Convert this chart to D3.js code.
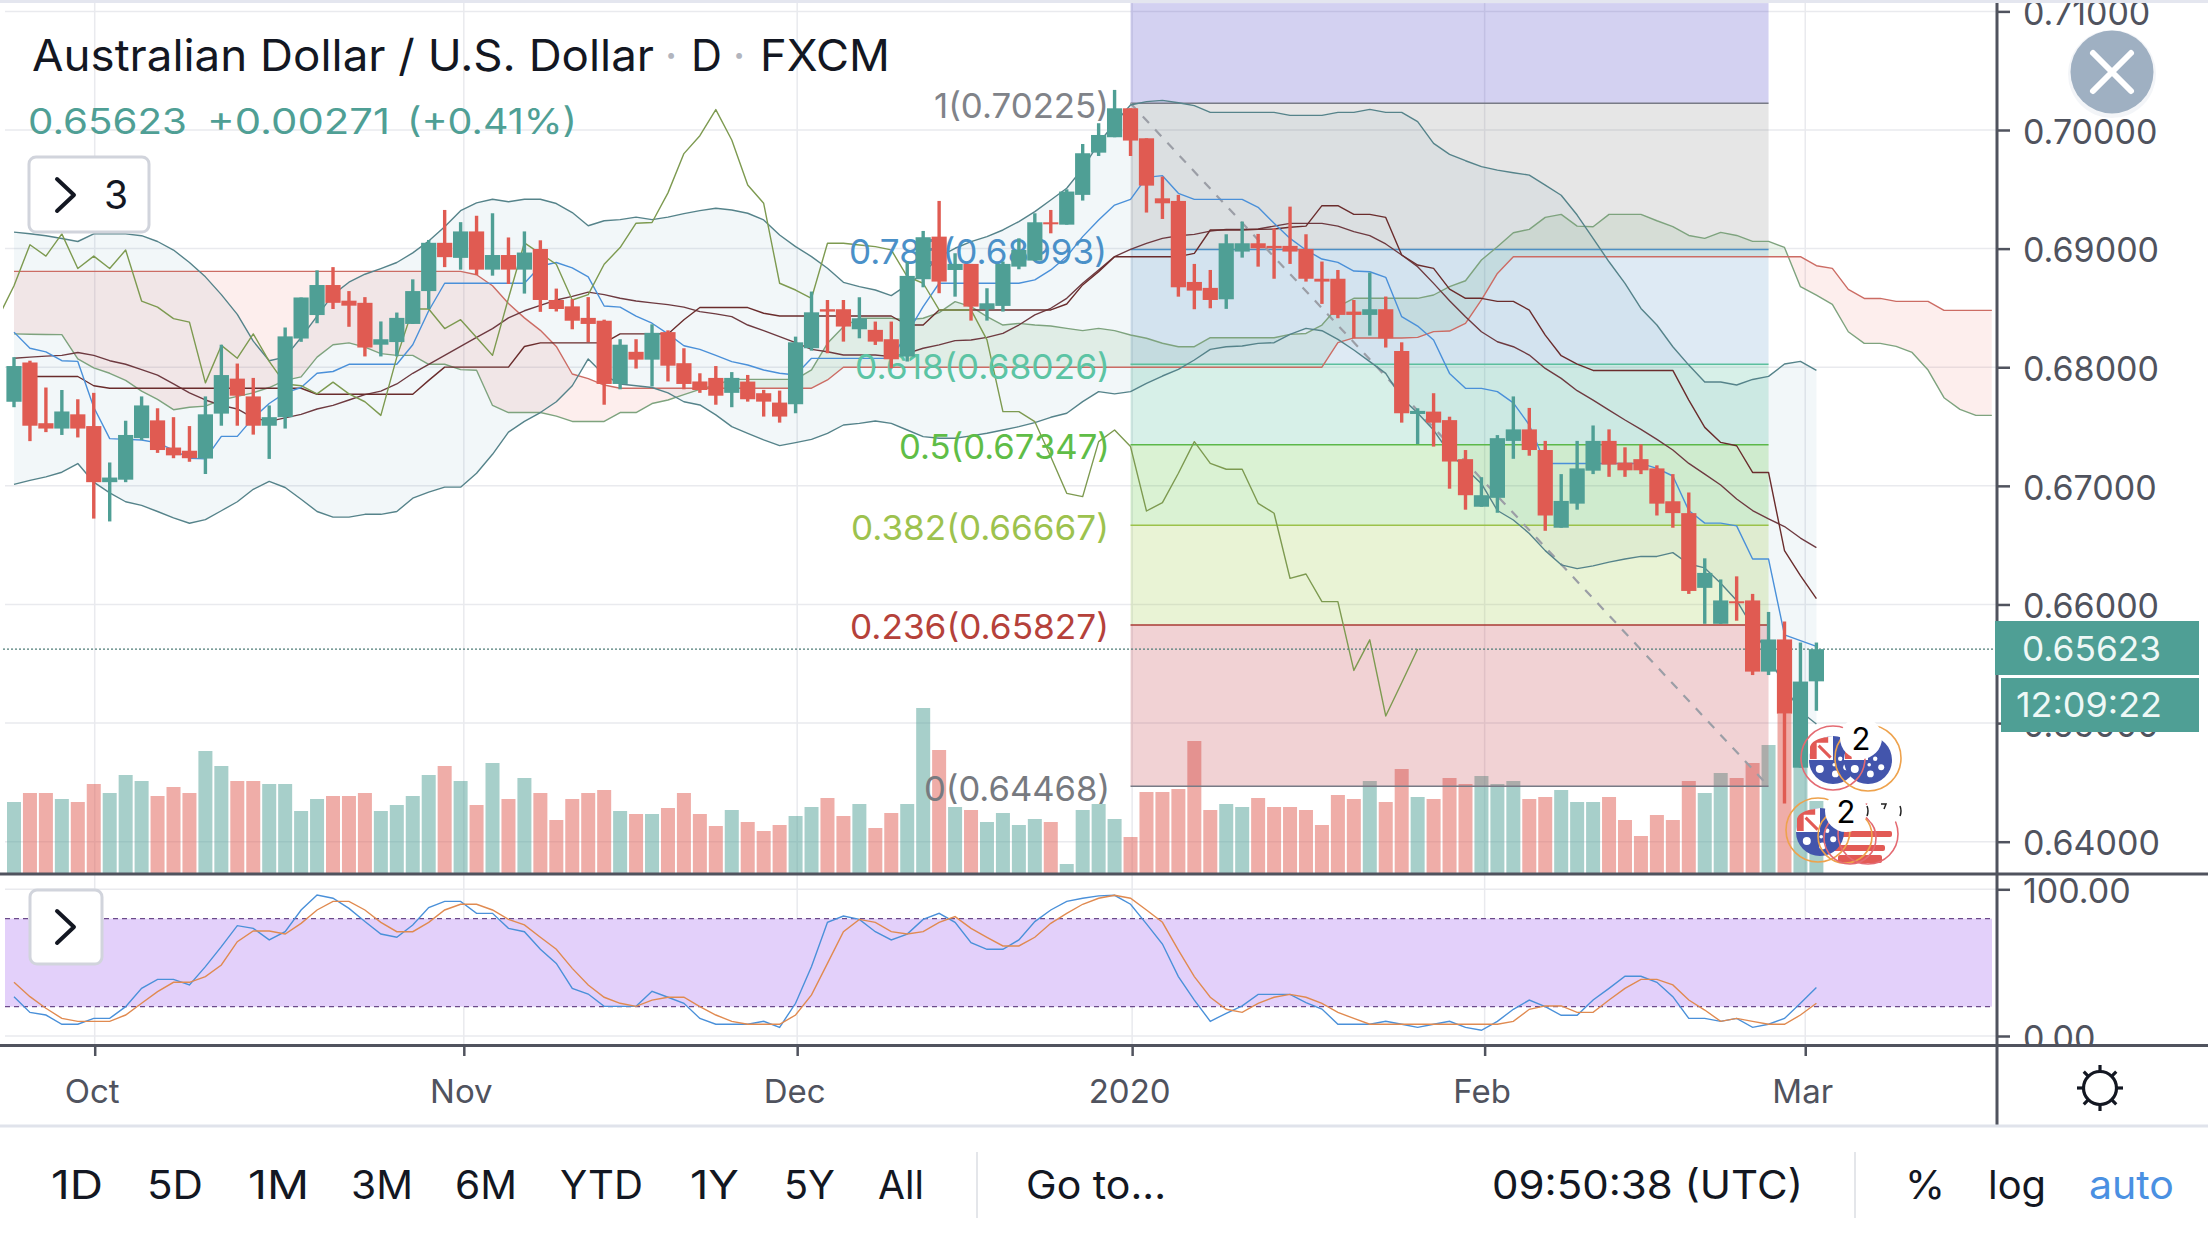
<!DOCTYPE html>
<html><head><meta charset="utf-8">
<script src="https://cdnjs.cloudflare.com/ajax/libs/d3/7.8.5/d3.min.js"></script>
<style>html,body{margin:0;padding:0;background:#fff;overflow:hidden}svg{display:block}text{font-family:Inter,"Liberation Sans",sans-serif}</style>
</head><body><svg id="c" width="2208" height="1242"></svg>
<script>
const opens=[.67709,.68040,.67528,.67483,.67603,.67504,.67031,.67052,.67402,.67552,.67323,.67296,.67230,.67609,.67904,.67754,.67507,.67579,.68242,.68440,.68693,.68561,.68543,.68190,.68212,.68365,.68642,.69049,.68922,.69145,.68823,.68946,.68823,.68997,.68567,.68513,.68416,.68392,.67859,.68130,.68064,.68296,.68034,.67880,.67910,.67784,.67879,.67781,.67702,.67688,.68160,.68489,.68489,.68320,.68315,.68236,.68090,.68742,.69101,.68820,.68871,.68489,.68517,.68848,.68899,.69222,.69202,.69453,.69809,.69939,.70183,.69930,.69424,.69402,.68719,.68669,.68573,.68975,.69045,.69023,.69023,.68997,.68746,.68746,.68469,.68441,.68489,.68137,.67606,.67626,.67554,.67225,.66824,.66899,.67379,.67476,.67302,.66647,.66850,.67128,.67379,.67196,.67225,.67147,.66870,.66770,.66140,.65837,.66027,.66034,.65434,.65705,.64624,.65352];
const highs=[.68085,.68055,.67829,.67808,.67730,.67784,.67197,.67549,.67754,.67654,.67579,.67504,.67754,.68190,.68031,.67910,.67678,.68335,.68588,.68817,.68844,.68642,.68591,.68386,.68461,.68741,.69073,.69326,.69223,.69277,.69298,.69094,.69145,.69070,.68663,.68573,.68591,.68401,.68236,.68236,.68362,.68311,.68160,.67949,.68010,.67959,.67935,.67809,.67803,.68258,.68638,.68567,.68567,.68590,.68385,.68385,.68891,.69149,.69402,.68961,.68871,.68666,.68891,.69087,.69298,.69326,.69500,.69882,.70057,.70338,.70183,.69930,.69607,.69453,.68871,.68820,.69121,.69228,.69124,.69171,.69354,.69121,.68891,.68820,.68567,.68798,.68596,.68210,.67654,.67781,.67583,.67302,.67073,.67428,.67754,.67657,.67379,.67099,.67379,.67509,.67476,.67325,.67350,.67173,.67099,.66944,.66389,.66211,.66237,.66089,.65937,.65856,.65679,.65679];
const lows=[.67663,.67377,.67453,.67429,.67408,.66724,.66700,.67031,.67386,.67278,.67233,.67203,.67100,.67507,.67507,.67432,.67227,.67483,.68214,.68371,.68491,.68341,.68091,.68091,.68091,.68365,.68491,.68844,.68823,.68778,.68772,.68702,.68621,.68467,.68470,.68320,.68212,.67684,.67814,.67989,.67838,.67880,.67814,.67784,.67684,.67663,.67710,.67584,.67533,.67612,.68140,.68118,.68216,.68244,.68188,.67991,.68048,.68674,.68624,.68595,.68393,.68393,.68469,.68826,.68899,.69129,.69202,.69405,.69781,.69939,.69781,.69304,.69250,.68595,.68489,.68497,.68492,.68924,.68848,.68746,.68871,.68722,.68534,.68413,.68244,.68267,.68166,.67533,.67353,.67331,.66976,.66799,.66824,.66773,.67228,.67254,.66621,.66647,.66799,.67099,.67076,.67076,.67099,.66750,.66647,.66089,.65837,.65837,.65863,.65405,.65405,.64323,.64624,.65104];
const closes=[.68010,.67507,.67483,.67627,.67483,.67031,.67070,.67429,.67678,.67302,.67257,.67233,.67603,.67934,.67760,.67507,.67579,.68260,.68588,.68693,.68543,.68519,.68166,.68236,.68416,.68642,.69049,.68928,.69145,.68823,.68946,.68823,.68967,.68567,.68491,.68392,.68365,.67859,.68190,.68064,.68290,.68013,.67859,.67808,.67760,.67910,.67730,.67710,.67584,.68210,.68463,.68469,.68343,.68413,.68216,.68067,.68770,.69096,.68722,.68871,.68511,.68539,.68871,.68989,.69222,.69205,.69481,.69804,.69958,.70183,.69911,.69531,.69382,.68674,.68646,.68567,.69045,.69045,.69003,.69003,.68975,.68746,.68722,.68441,.68441,.68489,.68244,.67612,.67632,.67533,.67205,.66921,.66921,.67402,.67476,.67302,.66750,.66873,.67147,.67379,.67179,.67131,.67131,.66850,.66770,.66114,.66266,.66034,.66011,.65434,.65705,.65079,.65350,.65623];
const volumes=[72,81,81,75,72,90,81,99,93,78,87,81,123,108,93,93,90,90,63,75,78,78,81,63,69,78,99,108,93,69,111,75,96,81,54,75,81,84,63,60,60,66,81,60,48,64,52,43,49,58,67,76,58,70,46,61,70,166,124,67,64,52,61,49,55,52,10,64,70,55,37,82,82,85,133,64,70,67,76,67,67,64,49,79,75,93,72,105,77,75,96,90,98,90,93,75,77,84,72,72,77,54,38,59,54,93,81,101,96,111,129,160,110,73];
const bbUpper=[.69139,.69125,.69109,.69085,.69060,.69124,.69124,.69124,.69109,.69060,.68988,.68883,.68762,.68612,.68446,.68220,.68055,.68085,.68251,.68431,.68612,.68717,.68784,.68832,.68883,.68964,.69064,.69184,.69320,.69386,.69416,.69395,.69416,.69416,.69380,.69304,.69193,.69235,.69244,.69265,.69244,.69265,.69295,.69320,.69340,.69326,.69298,.69242,.69115,.69017,.68933,.68834,.68716,.68680,.68651,.68604,.68694,.68792,.68932,.69003,.69059,.69101,.69157,.69228,.69312,.69410,.69509,.69677,.69888,.70057,.70211,.70239,.70250,.70230,.70205,.70149,.70149,.70149,.70149,.70149,.70123,.70123,.70123,.70149,.70149,.70174,.70149,.70149,.70070,.69887,.69795,.69741,.69691,.69662,.69640,.69620,.69536,.69450,.69283,.69086,.68889,.68707,.68496,.68356,.68173,.68018,.67875,.67875,.67850,.67897,.67923,.68027,.68049,.67973];
const bbLower=[.67013,.67046,.67076,.67115,.67188,.67031,.66941,.66866,.66835,.66784,.66730,.66685,.66715,.66790,.66866,.66971,.67037,.66986,.66887,.66784,.66736,.66736,.66760,.66760,.66784,.66896,.66947,.66989,.66989,.67106,.67266,.67453,.67543,.67618,.67709,.67844,.68070,.67934,.67859,.67844,.67829,.67784,.67709,.67682,.67598,.67499,.67443,.67387,.67339,.67364,.67392,.67443,.67513,.67527,.67547,.67527,.67471,.67415,.67401,.67401,.67421,.67443,.67471,.67499,.67533,.67578,.67612,.67710,.67794,.67775,.67794,.67864,.67926,.67982,.68061,.68151,.68173,.68179,.68201,.68207,.68277,.68328,.68308,.68235,.68145,.68047,.67948,.67740,.67615,.67470,.67276,.67147,.67018,.66792,.66712,.66599,.66454,.66334,.66302,.66325,.66357,.66383,.66405,.66405,.66437,.66341,.66308,.66179,.66034,.65808,.65566,.65308,.65098,.64992];
const bbBasis=[.68076,.68085,.68094,.68100,.68124,.68100,.68055,.68025,.67980,.67934,.67859,.67784,.67724,.67678,.67648,.67573,.67543,.67573,.67603,.67648,.67678,.67724,.67769,.67799,.67859,.67949,.68025,.68100,.68175,.68251,.68326,.68416,.68476,.68522,.68567,.68597,.68633,.68612,.68582,.68558,.68543,.68528,.68507,.68469,.68450,.68427,.68356,.68309,.68258,.68207,.68151,.68131,.68103,.68103,.68103,.68089,.68117,.68160,.68188,.68224,.68230,.68252,.68286,.68356,.68441,.68497,.68581,.68708,.68820,.68933,.68994,.69044,.69086,.69109,.69120,.69148,.69162,.69162,.69165,.69190,.69213,.69213,.69213,.69190,.69143,.69109,.69039,.68946,.68848,.68707,.68561,.68426,.68299,.68215,.68173,.68103,.67990,.67906,.67802,.67723,.67639,.67555,.67476,.67392,.67302,.67189,.67099,.67007,.66889,.66792,.66721,.66657,.66560,.66479];
const kijun=[null,.67922,.67922,.67922,.67922,.67844,.67823,.67823,.67823,.67823,.67823,.67823,.67823,.67823,.67823,.67823,.67823,.67823,.67823,.67772,.67772,.67772,.67772,.67772,.67772,.67772,.67889,.68001,.68001,.68001,.68001,.68001,.68175,.68205,.68205,.68205,.68205,.68205,.68281,.68281,.68281,.68281,.68400,.68503,.68503,.68503,.68503,.68455,.68432,.68432,.68432,.68432,.68432,.68432,.68432,.68432,.68356,.68356,.68483,.68483,.68483,.68483,.68483,.68483,.68483,.68483,.68533,.68694,.68806,.68932,.68932,.68932,.68932,.68932,.68960,.69157,.69157,.69157,.69162,.69165,.69180,.69190,.69362,.69362,.69289,.69289,.69263,.68946,.68862,.68833,.68659,.68581,.68581,.68555,.68555,.68482,.68271,.68097,.68027,.67973,.67973,.67973,.67973,.67973,.67973,.67723,.67493,.67366,.67338,.67113,.67113,.66454,.66244,.66050];
const tenkan=[.68296,.68160,.68130,.68055,.68049,.67663,.67398,.67392,.67386,.67362,.67302,.67233,.67227,.67417,.67417,.67573,.67694,.67784,.67829,.67949,.67964,.68025,.68025,.68025,.68025,.68190,.68476,.68708,.68708,.68708,.68708,.68708,.68708,.68853,.68883,.68838,.68762,.68516,.68507,.68431,.68371,.68281,.68181,.68150,.68100,.68047,.68019,.67977,.67949,.67935,.68075,.68075,.68075,.68075,.68075,.68075,.68286,.68511,.68708,.68708,.68708,.68708,.68708,.68708,.68736,.68820,.68933,.69101,.69242,.69367,.69415,.69601,.69615,.69466,.69415,.69415,.69415,.69415,.69348,.69213,.69086,.68988,.68912,.68884,.68811,.68805,.68758,.68426,.68347,.68229,.67948,.67822,.67822,.67794,.67700,.67513,.67189,.67189,.67189,.67189,.67189,.67189,.67189,.67147,.67083,.66792,.66686,.66686,.66663,.66383,.66383,.65744,.65695,.65647];
const chikouFirstBar=-1;
const chikou=[.68416,.68687,.69033,.68937,.69124,.68832,.68937,.68832,.68988,.68558,.68507,.68410,.68380,.67868,.68184,.68076,.68281,.68049,.67859,.67844,.67775,.67874,.67775,.67709,.67594,.68085,.68491,.68491,.68326,.68401,.68251,.68100,.68582,.69049,.68958,.68868,.68567,.68612,.68868,.69009,.69214,.69220,.69470,.69801,.69952,.70172,.69916,.69537,.69382,.68708,.68651,.68581,.69045,.69045,.69031,.69017,.68989,.68764,.68708,.68483,.68483,.68483,.68230,.67626,.67626,.67541,.67246,.66937,.66909,.67373,.67471,.67331,.66788,.66858,.67106,.67373,.67190,.67140,.67140,.66853,.66769,.66220,.66257,.66024,.66024,.65444,.65702,.65060,.65340,.65624];
const spanA=[.68281,.68278,.68276,.68275,.68070,.67995,.67949,.67889,.67799,.67729,.67642,.67663,.67672,.67724,.67754,.67784,.67829,.67889,.67919,.68085,.68190,.68205,.68169,.68115,.68100,.68100,.68025,.68025,.67980,.67974,.67678,.67618,.67618,.67618,.67588,.67543,.67543,.67543,.67618,.67618,.67694,.67724,.67769,.67814,.67850,.67898,.67898,.67898,.67898,.67898,.67977,.68202,.68342,.68413,.68413,.68413,.68399,.68413,.68460,.68553,.68511,.68427,.68356,.68370,.68356,.68348,.68328,.68309,.68328,.68309,.68272,.68244,.68202,.68173,.68173,.68249,.68249,.68249,.68249,.68249,.68277,.68285,.68356,.68510,.68581,.68581,.68581,.68581,.68581,.68609,.68679,.68729,.68904,.69016,.69134,.69162,.69263,.69289,.69190,.69184,.69289,.69289,.69289,.69235,.69185,.69111,.69086,.69137,.69111,.69061,.69061,.69010,.68679,.68608,.68530,.68299,.68201,.68201,.68176,.68125,.67976,.67743,.67645,.67594,.67594];
const spanB=[.68808,.68808,.68808,.68808,.68808,.68808,.68808,.68808,.68808,.68808,.68808,.68808,.68808,.68808,.68808,.68808,.68808,.68808,.68808,.68808,.68808,.68808,.68808,.68808,.68808,.68808,.68808,.68808,.68808,.68780,.68687,.68537,.68416,.68311,.68175,.67943,.67904,.67850,.67823,.67823,.67823,.67823,.67823,.67823,.67823,.67823,.67823,.67823,.67823,.67823,.67823,.67893,.68000,.68000,.68000,.68000,.68000,.68000,.68000,.68000,.68000,.68000,.68000,.68000,.68000,.68000,.68000,.68000,.68000,.68000,.68000,.68000,.68000,.68000,.68000,.68000,.68000,.68000,.68000,.68000,.68000,.68000,.68000,.68207,.68247,.68247,.68247,.68247,.68252,.68300,.68305,.68370,.68567,.68791,.68932,.68932,.68932,.68932,.68932,.68932,.68932,.68932,.68932,.68932,.68932,.68932,.68932,.68932,.68932,.68932,.68932,.68932,.68932,.68856,.68833,.68656,.68580,.68580,.68555,.68555,.68555,.68479,.68479,.68479,.68479];
const stochK=[26.8,16.1,14.3,8,8,12,12,20,32.5,38.6,38.6,34.8,47.3,60.9,75.2,73.4,65.5,71.1,85.9,96.1,93.9,87,78,69.5,67.3,75.7,87.5,91.8,91.8,83.6,83.6,73.4,71.1,59.1,49.5,32.5,28.6,20.2,20.2,20.2,30.5,26.4,22.3,12,8,8,8,10,5.9,22.3,47.3,77.5,81.8,79.5,71.1,65.5,69.5,79.5,83.6,77.5,63.6,59.1,59.1,65.5,78,85.9,91.8,93.9,95.5,95.9,89.8,76.4,62.7,40.5,24.5,10,15.5,20.5,28.4,28.4,28.4,22.7,18.4,8,8,8,10,8,5.9,8,10,5.9,3.9,10,18.2,24.5,20,14.1,14.1,24.5,32.5,40.7,40.7,36.6,26.8,12,12,10,12,5.9,8,12,22.3,33];
const stochD=[36.6,26.8,18.9,12,10,10,10,14.3,22.3,30.2,36.6,36.6,40.5,48.4,64.3,71.6,71.6,69.5,76.8,85.9,91.8,91.8,85.9,77.5,71.1,71.1,77.5,85.9,89.8,89.8,85.9,79.5,75.7,67.3,59.1,46.1,34.8,26.4,22.3,20.2,24.5,26.4,26.4,20,14.3,10,8,8,8,14.3,28,49.5,71.1,79.5,77.5,71.1,69.5,71.1,77.5,81.4,73.4,67.3,61.4,61.4,67.3,76.8,83.6,89.8,93.9,95.9,93.9,85.9,77.5,58.6,40.5,26.4,18.2,16.1,22.3,26.4,28.4,26.4,22.3,16.1,12,8,8,8,8,8,8,8,8,8,10,18.2,20.5,20.5,16.1,16.1,24.5,32.5,38.6,38.6,34.8,24.5,17.7,10,12,10,8,8,14.3,22.3];
const fibRatios=["1","0.786","0.618","0.5","0.382","0.236","0"];
const fibPrices=[.70225,.68993,.68026,.67347,.66667,.65827,.64468];
const fibLine=["#787b86","#4d8fc4","#5cbf9e","#5cb84a","#9bc24a","#a93a34","#787b86"];
const fibText=["#808389","#4a90c8","#5cc4a4","#5fbd47","#9dc24e","#b5413a","#777a80"];
const fibFill=["rgb(55,46,191)","rgb(114,114,118)","rgb(59,132,187)","rgb(55,182,141)","rgb(69,191,37)","rgb(155,200,64)","rgb(191,50,59)"];
const fibOpacity=[.22,.18,.17,.2,.2,.22,.22,.22];
const fibLeftRight=[70,110];
const priceTicks=[.71,.70,.69,.68,.67,.66,.65,.64];
const monthLabels=["Oct","Nov","Dec","2020","Feb","Mar"];
const monthBars=[5.06,28.2,49.1,70.1,92.2,112.3];
const stochTicks=[100,0];
const stochBands=[80,20];
const rangeButtons=["1D","5D","1M","3M","6M","YTD","1Y","5Y","All"];

const UP="#4f9f95",DOWN="#e05b52",AXIS="#50535e",GRID="#e9eaee";
const svg=d3.select("#c");
const defs=svg.append("defs");
const addClip=(id,x,y,w,h)=>defs.append("clipPath").attr("id",id).append("rect").attr("x",x).attr("y",y).attr("width",w).attr("height",h);
addClip("main",3,3,1992,871);addClip("axTop",1997,3,211,871);addClip("axLow",1997,876,211,169);

const x=d3.scaleLinear().domain([0,113]).range([14,1816.4]);
const y=d3.scaleLinear().domain([.70,.64]).range([130,841.7]);
const yVol=d3.scaleLinear().domain([0,166]).range([874,708]);
const yS=d3.scaleLinear().domain([0,100]).range([1036,889.3]);
const bars=d3.range(opens.length);
const lineOf=(arr,start=0,sc=y)=>d3.line().defined(d=>d!=null).x((d,i)=>x(i+start)).y(d=>sc(d))(arr);

function txt(g,xp,yp,s,o={}){const t=g.append("text").attr("x",xp).attr("y",yp).text(s).attr("font-size",o.size||34).attr("fill",o.fill||"#131722").attr("text-anchor",o.anchor||"start");
 if(o.len){t.attr("textLength",o.len).attr("lengthAdjust","spacingAndGlyphs");}
 return t;}

// grid
const grid=svg.append("g").attr("stroke",GRID).attr("stroke-width",1.5);
grid.selectAll("line.h").data(priceTicks).join("line").attr("class","h").attr("x1",5).attr("x2",1997).attr("y1",d=>y(d)).attr("y2",d=>y(d));
grid.selectAll("line.s").data(stochTicks).join("line").attr("class","s").attr("x1",5).attr("x2",1997).attr("y1",d=>yS(d)).attr("y2",d=>yS(d));
grid.selectAll("line.v").data(monthBars).join("line").attr("class","v").attr("x1",d=>x(d)).attr("x2",d=>x(d)).attr("y1",3).attr("y2",1045);

const main=svg.append("g").attr("clip-path","url(#main)");
// volume
main.append("g").selectAll("rect").data(bars).join("rect")
 .attr("x",i=>x(i)-7).attr("width",14).attr("y",i=>yVol(volumes[i])).attr("height",i=>874-yVol(volumes[i]))
 .attr("fill",i=>closes[i]>=opens[i]?UP:DOWN).attr("opacity",.5);
// Bollinger fill
main.append("path").attr("fill","rgb(40,120,150)").attr("opacity",.06)
 .attr("d",d3.area().x((d,i)=>x(i)).y0((d,i)=>y(bbLower[i])).y1(d=>y(d))(bbUpper));
// cloud
const sIdx=d3.range(spanA.length);
defs.append("clipPath").attr("id","aboveB").append("path").attr("d",d3.area().x(i=>x(i)).y0(0).y1(i=>y(spanB[i]))(sIdx));
defs.append("clipPath").attr("id","belowB").append("path").attr("d",d3.area().x(i=>x(i)).y0(874).y1(i=>y(spanB[i]))(sIdx));
const cloud=d3.area().x(i=>x(i)).y0(i=>y(spanA[i])).y1(i=>y(spanB[i]))(sIdx);
main.append("g").attr("clip-path","url(#aboveB)").append("path").attr("d",cloud).attr("fill","rgb(67,160,71)").attr("opacity",.1);
main.append("g").attr("clip-path","url(#belowB)").append("path").attr("d",cloud).attr("fill","rgb(240,90,80)").attr("opacity",.1);
// fib fills
const fibTop=.7107;
const fx0=x(fibLeftRight[0]),fx1=x(fibLeftRight[1]);
const fibEdges=[fibTop,...fibPrices];
main.append("g").selectAll("rect").data(fibFill).join("rect").attr("x",fx0).attr("width",fx1-fx0)
 .attr("y",(d,i)=>y(fibEdges[i])).attr("height",(d,i)=>y(fibEdges[i+1])-y(fibEdges[i])).attr("fill",d=>d).attr("opacity",(d,i)=>fibOpacity[i]);
main.append("g").selectAll("line").data(fibPrices).join("line").attr("x1",fx0).attr("x2",fx1).attr("y1",d=>y(d)).attr("y2",d=>y(d))
 .attr("stroke",(d,i)=>fibLine[i]).attr("stroke-width",1.5);
main.append("line").attr("x1",fx0).attr("x2",fx1).attr("y1",y(fibPrices[0])).attr("y2",y(fibPrices[6]))
 .attr("stroke","#9b9ea6").attr("stroke-width",2.2).attr("stroke-dasharray","9 9");
// lines
const ln=(arr,c,start=0)=>main.append("path").attr("d",lineOf(arr,start)).attr("fill","none").attr("stroke",c).attr("stroke-width",1.4).attr("stroke-linejoin","round");
ln(spanA,"#7ea37e");ln(spanB,"#cc6c64");
ln(bbUpper,"#55838a");ln(bbLower,"#55838a");ln(bbBasis,"#6e3a40");
ln(kijun,"#6a2c2c");ln(tenkan,"#4a90d9");ln(chikou,"#7d9a50",chikouFirstBar);
// last-price dotted line
main.append("line").attr("x1",3).attr("x2",1995).attr("y1",y(closes[113])).attr("y2",y(closes[113])).attr("stroke","#4f7d78").attr("stroke-width",1.3).attr("stroke-dasharray","2 2");
// fib labels
const fl=svg.append("g");
const fibLabelX=[[934,175],[849,258],[855,255],[899,211],[851,258],[850,259],[924,186]];
fibPrices.forEach((p,i)=>{txt(fl,fibLabelX[i][0],y(p)+14.5,`${fibRatios[i]}(${p.toFixed(5)})`,{size:34,fill:fibText[i],len:fibLabelX[i][1]});});
// candles
const cg=svg.append("g").attr("clip-path","url(#main)");
cg.selectAll("line").data(bars).join("line").attr("x1",i=>x(i)).attr("x2",i=>x(i)).attr("y1",i=>y(highs[i])).attr("y2",i=>y(lows[i]))
 .attr("stroke",i=>closes[i]>=opens[i]?UP:DOWN).attr("stroke-width",3.4);
cg.selectAll("rect").data(bars).join("rect").attr("x",i=>x(i)-7.6).attr("width",15.2)
 .attr("y",i=>y(Math.max(opens[i],closes[i]))).attr("height",i=>Math.max(2,Math.abs(y(opens[i])-y(closes[i]))))
 .attr("fill",i=>closes[i]>=opens[i]?UP:DOWN);

// event badges
const ev=svg.append("g").attr("clip-path","url(#main)");
const flagAU=(cx,cy,r)=>{ev.append("circle").attr("cx",cx).attr("cy",cy).attr("r",r).attr("fill","#4355ac");
 ev.append("path").attr("d",`M${cx-r} ${cy}A${r} ${r} 0 0 1 ${cx} ${cy-r}L${cx} ${cy}Z`).attr("fill","#fff");
 ev.append("path").attr("d",`M${cx-r+1} ${cy-1}V${cy-r*0.55}Q${cx-r+3} ${cy-r+3} ${cx-r*0.2} ${cy-r+1}V${cy-r*0.72}H${cx-r*0.68}V${cy-1}Z`).attr("fill","#e25a55");
 ev.append("path").attr("d",`M${cx-r*0.6} ${cy-r*0.6}L${cx-r*0.1} ${cy-r*0.1}`).attr("stroke","#e25a55").attr("stroke-width",3);
 [[-.55,.38,4],[.1,.58,3.4],[.55,.3,3],[.3,-.05,2.2],[.05,.2,1.8]].forEach(s=>ev.append("circle").attr("cx",cx+s[0]*r).attr("cy",cy+s[1]*r).attr("r",s[2]).attr("fill","#fff"));};
const ring=(cx,cy,r,c)=>ev.append("circle").attr("cx",cx).attr("cy",cy).attr("r",r).attr("fill","none").attr("stroke",c).attr("stroke-width",1.6);
// US stripes
[[1827,831,65,6],[1830,845,55,6],[1838,855,44,8]].forEach(s=>ev.append("rect").attr("x",s[0]).attr("y",s[1]).attr("width",s[2]).attr("height",s[3]).attr("fill","#e25a55").attr("rx",2));
flagAU(1833,760,24);flagAU(1868,760,24);
ring(1833,758,32,"#e46a72");ring(1868,758,33,"#eea24c");
ev.append("circle").attr("cx",1861).attr("cy",738).attr("r",21).attr("fill","#fff");
txt(ev,1861,750,"2",{size:31,fill:"#000",anchor:"middle"});
flagAU(1820,832,24);
ring(1818,830,32,"#eea24c");ring(1845,836,27,"#eea24c");ring(1868,834,30,"#e46a72");ring(1850,838,26,"#e46a72");
ev.append("circle").attr("cx",1846).attr("cy",811).attr("r",21).attr("fill","#fff");
ev.append("circle").attr("cx",1883).attr("cy",810).attr("r",17).attr("fill","#fff");
txt(ev,1846,823,"2",{size:31,fill:"#000",anchor:"middle"});
ev.append("path").attr("d","M1867 806q2 5 0 10M1900 806q2 5 0 10M1881 804h5l-2 5").attr("fill","none").attr("stroke","#222").attr("stroke-width",1.5);

// stoch pane
const st=svg.append("g");
st.append("rect").attr("x",5).attr("width",1987).attr("y",yS(stochBands[0])).attr("height",yS(stochBands[1])-yS(stochBands[0])).attr("fill","#e3d0fa");
st.selectAll("line").data(stochBands).join("line").attr("x1",5).attr("x2",1992).attr("y1",d=>yS(d)).attr("y2",d=>yS(d)).attr("stroke","#6b4a8a").attr("stroke-width",1.4).attr("stroke-dasharray","5 4");
st.append("path").attr("d",lineOf(stochK,0,yS)).attr("fill","none").attr("stroke","#4a90d9").attr("stroke-width",1.4);
st.append("path").attr("d",lineOf(stochD,0,yS)).attr("fill","none").attr("stroke","#e08a50").attr("stroke-width",1.4);

// frame
const fr=svg.append("g").attr("fill",AXIS);
fr.append("rect").attr("x",1995.5).attr("y",3).attr("width",3).attr("height",1122);
fr.append("rect").attr("x",0).attr("y",872.5).attr("width",2208).attr("height",3);
fr.append("rect").attr("x",0).attr("y",1044).attr("width",2208).attr("height",3);
svg.append("rect").attr("x",0).attr("y",1124.5).attr("width",2208).attr("height",3).attr("fill","#e0e3eb");
svg.append("rect").attr("x",0).attr("y",0).attr("width",2208).attr("height",3).attr("fill","#e4e6ef");

// axes
const styleAxis=g=>{g.select(".domain").remove();g.selectAll("text").attr("fill",AXIS).attr("font-size",34).attr("font-family","Inter");g.selectAll("line").attr("stroke",AXIS).attr("stroke-width",2.5);};
svg.append("g").attr("clip-path","url(#axTop)").append("g").attr("transform","translate(1997,0)")
 .call(d3.axisRight(y).tickValues(priceTicks).tickFormat(d3.format(".5f")).tickSize(13).tickPadding(13)).call(styleAxis)
 .selectAll("text").attr("dy","0.39em");
svg.append("g").attr("clip-path","url(#axLow)").append("g").attr("transform","translate(1997,0)")
 .call(d3.axisRight(yS).tickValues(stochTicks).tickFormat(d3.format(".2f")).tickSize(13).tickPadding(13)).call(styleAxis)
 .selectAll("text").attr("dy","0.39em");
const axB=svg.append("g").attr("transform","translate(0,1046)")
 .call(d3.axisBottom(x).tickValues(monthBars).tickFormat((d,i)=>monthLabels[i]).tickSize(10).tickPadding(24)).call(styleAxis);
axB.selectAll("text").attr("dx",-3).attr("font-size",33);

// price tags
svg.append("rect").attr("x",1995).attr("y",621).attr("width",204).attr("height",54).attr("fill",UP);
svg.append("rect").attr("x",2001).attr("y",678).attr("width",198).attr("height",54).attr("fill",UP);
txt(svg,2022,y(closes[113])+12,closes[113].toFixed(5),{fill:"#eef8f6",size:34,len:139});
txt(svg,2016,717,"12:09:22",{fill:"#eef8f6",size:34,len:146});

// header
const hd=svg.append("g");
txt(hd,32,71,"Australian Dollar / U.S. Dollar",{size:44,len:622});
txt(hd,671,71,"·",{size:44,fill:"#b2b5be",anchor:"middle"});
txt(hd,691,71,"D",{size:44,len:31});
txt(hd,739,71,"·",{size:44,fill:"#b2b5be",anchor:"middle"});
txt(hd,760,71,"FXCM",{size:44,len:130});
txt(hd,28,134,closes[113].toFixed(5),{size:35,fill:UP,len:159});
txt(hd,207,134,"+0.00271",{size:35,fill:UP,len:183});
txt(hd,407,134,"(+0.41%)",{size:35,fill:UP,len:170});

// collapse buttons
const btn=(xb,yb,w,h)=>svg.append("rect").attr("x",xb).attr("y",yb).attr("width",w).attr("height",h).attr("rx",7).attr("fill","#fff").attr("stroke","#d1d4dc").attr("stroke-width",3);
const chev=(xc,y0,y1)=>svg.append("path").attr("d",`M${xc-9} ${y0}L${xc+8} ${(y0+y1)/2}L${xc-9} ${y1}`).attr("fill","none").attr("stroke","#131722").attr("stroke-width",4).attr("stroke-linecap","round").attr("stroke-linejoin","round");
btn(29,157,120,75);chev(66,179,211);txt(svg,116,209,"3",{size:39,anchor:"middle"});
btn(30,890,72,74);chev(66,911,943);

// close button
svg.append("circle").attr("cx",2112).attr("cy",74).attr("r",44).attr("fill","#9fb0c2").attr("opacity",.12);
svg.append("circle").attr("cx",2112).attr("cy",72).attr("r",41.5).attr("fill","#9fb0c2");
svg.append("path").attr("d","M2093 53L2131 91M2131 53L2093 91").attr("stroke","#fff").attr("stroke-width",6).attr("stroke-linecap","round");

// gear
const gear=svg.append("g").attr("transform","translate(2100,1088)");
gear.append("circle").attr("r",16.5).attr("fill","none").attr("stroke","#131722").attr("stroke-width",3.2);
d3.range(8).forEach(k=>{const a=k*Math.PI/4;gear.append("line").attr("x1",16*Math.cos(a)).attr("y1",16*Math.sin(a)).attr("x2",23*Math.cos(a)).attr("y2",23*Math.sin(a)).attr("stroke","#131722").attr("stroke-width",3.2);});

// bottom toolbar
const tb=svg.append("g");
const btnX=[51,147,248,351,455,560,690,784,878],btnW=[52,56,61,62,62,83,49,51,46];
rangeButtons.forEach((s,i)=>txt(tb,btnX[i],1199,s,{size:39,len:btnW[i]}));
txt(tb,1026,1199,"Go to...",{size:39,len:140});
txt(tb,1492,1199,"09:50:38 (UTC)",{size:39,len:311});
txt(tb,1905,1199,"%",{size:39,len:40});
txt(tb,1988,1199,"log",{size:39,len:58});
txt(tb,2089,1199,"auto",{size:39,fill:"#4a90e2",len:85});
tb.selectAll("line").data([977,1855]).join("line").attr("x1",d=>d).attr("x2",d=>d).attr("y1",1152).attr("y2",1218).attr("stroke","#e4e6ea").attr("stroke-width",2);
</script></body></html>
